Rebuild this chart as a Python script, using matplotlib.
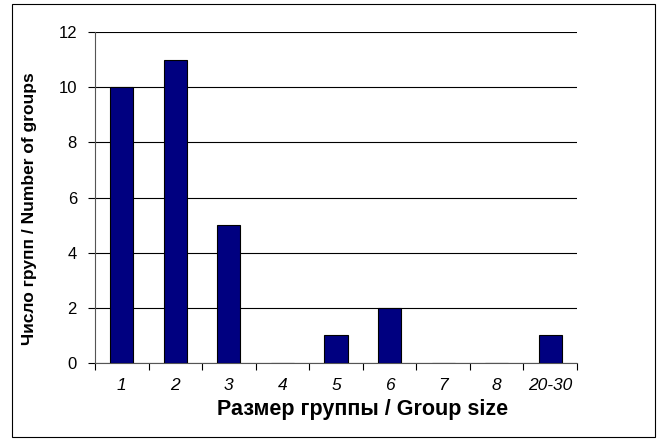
import matplotlib.pyplot as plt
import numpy as np
from matplotlib.patches import Rectangle

plt.rcParams['font.family'] = ['Liberation Sans', 'DejaVu Sans']

categories = ['1', '2', '3', '4', '5', '6', '7', '8', '20-30']
counts = [10, 11, 5, 0, 1, 2, 0, 0, 1]

fig = plt.figure(figsize=(6.66, 4.42), dpi=100)
ax = fig.add_axes([95 / 666, 1 - 363 / 442, (577 - 95) / 666, (363 - 32) / 442])

x = np.arange(len(categories))
ax.bar(x, counts, width=0.43, color='#000080', edgecolor='black', linewidth=0.8, zorder=3)

ax.set_xlim(-0.5, len(categories) - 0.5)
ax.set_ylim(0, 12)
ax.set_yticks(range(0, 13, 2))
ax.yaxis.grid(True, color='black', linewidth=0.8, zorder=0)

# ticks between categories, labels centred under the bars
ax.set_xticks(np.arange(-0.5, len(categories), 1))
ax.set_xticklabels([])
ax.set_xticks(x, minor=True)
ax.set_xticklabels(categories, minor=True, fontstyle='italic', fontsize=12.5)
ax.tick_params(axis='x', which='minor', length=0, pad=11)
ax.tick_params(axis='x', which='major', length=5, width=0.8, direction='out')
ax.tick_params(axis='y', length=5, width=0.8, labelsize=12, pad=8)

for s in ['top', 'right']:
    ax.spines[s].set_visible(False)
for s in ['left', 'bottom']:
    ax.spines[s].set_linewidth(0.8)
    ax.spines[s].set_color('#555555')

ax.set_xlabel('Размер группы / Group size', fontsize=15.5, fontweight='bold')
ax.xaxis.label.set_va('center')
ax.xaxis.set_label_coords((363 - 95) / 482, (363 - 409) / 331)

ax.set_ylabel('Число групп / Number of groups', fontsize=12.5, fontweight='bold')
ax.yaxis.label.set_va('center')
ax.yaxis.set_label_coords((30 - 95) / 482, (363 - 209) / 331)

fig.patches.append(Rectangle((12 / 666, 1 - 437 / 442), (655 - 12) / 666, (437 - 4) / 442,
                             transform=fig.transFigure, fill=False, edgecolor='black',
                             linewidth=0.8))

fig.savefig('out.png', dpi=100)
